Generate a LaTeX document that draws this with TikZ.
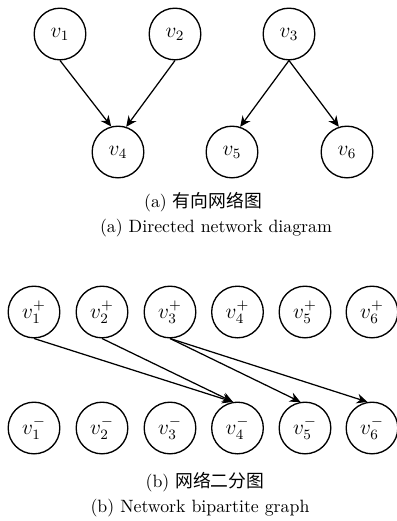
\documentclass[tikz,border=0pt]{standalone}
\usepackage{fontspec}
\newfontfamily\cjk{Noto Sans CJK SC}
\usetikzlibrary{arrows.meta}
\begin{document}
\begin{tikzpicture}[x=0.5614pt,y=-0.5614pt,
  vtx/.style={circle,draw,line width=0.75pt,minimum size=29pt,inner sep=0pt,font=\fontsize{11.5}{14}\selectfont},
  arr/.style={line width=0.7pt,-{Stealth[length=6pt,width=5.5pt]}},
  captxt/.style={inner sep=0pt}]
\useasboundingbox (0,0) rectangle (397,521);
% (a)
\node[vtx] (v1) at (60,34) {$v_1$};
\node[vtx] (v2) at (175,34) {$v_2$};
\node[vtx] (v3) at (289,34) {$v_3$};
\node[vtx] (v4) at (118,152) {$v_4$};
\node[vtx] (v5) at (232,152) {$v_5$};
\node[vtx] (v6) at (347,152) {$v_6$};
\draw[arr] (v1.south) -- (v4.105);
\draw[arr] (v2.south) -- (v4.72);
\draw[arr] (v3.south) -- (v5.72);
\draw[arr] (v3.south) -- (v6.108);
\node[captxt] (ca1) at (203,202) {(a) {\cjk 有向网络图}};
\node[captxt] (ca2) at (216,228) {(a) Directed network diagram};
% (b)
\foreach \i/\x in {1/34,2/102,3/170,4/237.5,5/305,6/372}{
  \node[vtx] (p\i) at (\x,312) {$v_{\i}^{+}$};
  \node[vtx] (m\i) at (\x,428) {$v_{\i}^{-}$};
}
\draw[arr] (p1.south) -- (m4.100);
\draw[arr] (p2.south) -- (m4.100);
\draw[arr] (p3.south) -- (m5.100);
\draw[arr] (p3.south) -- (m6.100);
\node[captxt] (cb1) at (205,482) {(b) {\cjk 网络二分图}};
\node[captxt] (cb2) at (200,508) {(b) Network bipartite graph};
\end{tikzpicture}
\end{document}
